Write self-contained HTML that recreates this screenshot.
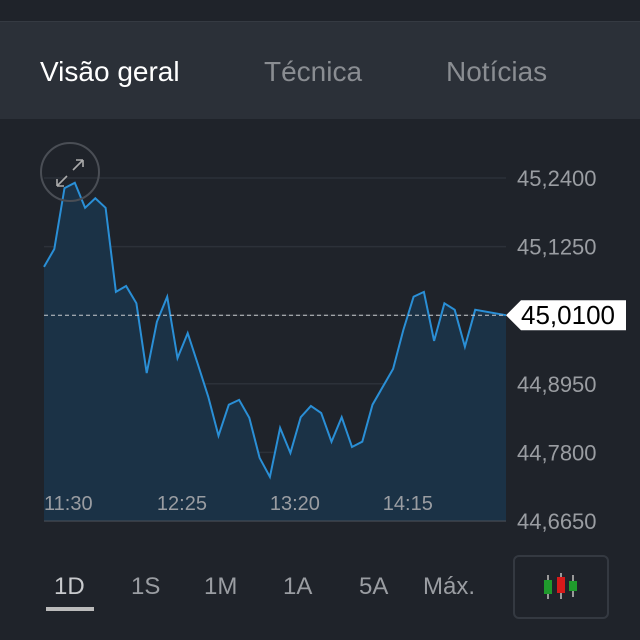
<!DOCTYPE html>
<html><head><meta charset="utf-8"><style>
html,body{margin:0;width:640px;height:640px;overflow:hidden}
body{background:#1f232a;font-family:"Liberation Sans",sans-serif;position:relative}
.abs{position:absolute}
.tab{position:absolute;top:56px;font-size:28px;color:#8a8d92}
.rng{position:absolute;top:573px;font-size:24px;color:#9a9da2}
</style></head><body>
<div class="abs" style="left:0;top:0;width:640px;height:21px;background:#1f232a"></div>
<div class="abs" style="left:0;top:21px;width:640px;height:97px;background:#2b3038;border-top:1px solid #353a42"></div>
<div class="tab" style="left:40px;color:#fff">Visão geral</div>
<div class="tab" style="left:264px">Técnica</div>
<div class="tab" style="left:446px">Notícias</div>
<svg class="abs" style="left:0;top:0" width="640" height="640">
<polygon points="102,118 112,110 122,118" fill="#2b3038"/>
<g id="grid"></g><path id="area" fill="#1b3246"/><path id="line" fill="none" stroke="#2a8fd6" stroke-width="2"/>
<line x1="44" x2="506" y1="521" y2="521" stroke="#4a5058" stroke-width="1"/>
<g id="ylab"></g><g id="xlab"></g>
<circle cx="70" cy="172" r="29" fill="none" stroke="#4a4e55" stroke-width="2"/>
<path d="M57,186 L67,176 M57,186 h7 M57,186 v-7 M83,160 L73,170 M83,160 h-7 M83,160 v7" stroke="#aaa" stroke-width="1.6" fill="none"/>
<g id="cur"></g>
</svg>
<div class="rng" style="left:54px;color:#c8cacd">1D</div>
<div class="abs" style="left:46px;top:607px;width:48px;height:4px;background:#bbb"></div>
<div class="rng" style="left:131px">1S</div>
<div class="rng" style="left:204px">1M</div>
<div class="rng" style="left:283px">1A</div>
<div class="rng" style="left:359px">5A</div>
<div class="rng" style="left:423px">Máx.</div>
<div class="abs" style="left:513px;top:555px;width:92px;height:60px;border:2px solid #343941;border-radius:6px">
<svg width="92" height="60"><g stroke="#999" stroke-width="2"><line x1="33" y1="18" x2="33" y2="42"/><line x1="46" y1="16" x2="46" y2="42"/><line x1="58" y1="18" x2="58" y2="40"/></g>
<rect x="29" y="23" width="8" height="14" fill="#1f9a2c"/><rect x="42" y="20" width="8" height="16" fill="#d61a1a"/><rect x="54" y="24" width="8" height="10" fill="#1f9a2c"/></svg></div>
<script>
const times=[0,1,2,3,4,5,6,7,8,9,10,11,12,13,14,15,16,17,18,19,20,21,22,23,24,25,26,27,28,29,30,31,32,33,34,35,36,37,38,39,40,41,42,45];
const values=[45.091,45.121,45.223,45.232,45.190,45.206,45.190,45.049,45.059,45.030,44.913,44.999,45.041,44.938,44.980,44.927,44.873,44.808,44.860,44.868,44.838,44.771,44.739,44.821,44.779,44.839,44.858,44.846,44.798,44.839,44.789,44.798,44.860,44.890,44.920,44.985,45.041,45.049,44.967,45.030,45.019,44.957,45.019,45.010];
const yTicks=[45.24,45.125,45.01,44.895,44.78,44.665];
const xTickLabels=["11:30","12:25","13:20","14:15"];
const xTickTimes=[0,11,22,33];
const current=45.01;
const X0=44,X1=506,Y0=178,Y1=521,vmax=45.24,vmin=44.665,tmax=45;
const x=t=>X0+t*(X1-X0)/tmax;
const y=v=>Y0+(vmax-v)/(vmax-vmin)*(Y1-Y0);
const NS="http://www.w3.org/2000/svg";
const fmt=v=>v.toFixed(4).replace('.',',');
const grid=document.getElementById('grid'),yl=document.getElementById('ylab'),xl=document.getElementById('xlab');
yTicks.forEach(t=>{
 const l=document.createElementNS(NS,'line');
 
 
 l.setAttribute('x1',X0);l.setAttribute('x2',X1);l.setAttribute('y1',y(t));l.setAttribute('y2',y(t));
 l.setAttribute('stroke','#2c3139');l.setAttribute('stroke-width','1.5');grid.appendChild(l);
 if(Math.abs(t-current)>1e-6){
 const tx=document.createElementNS(NS,'text');
 
 
 tx.setAttribute('x',517);tx.setAttribute('y',y(t)+8);tx.setAttribute('font-size','22');tx.setAttribute('fill','#9a9da2');
 tx.textContent=fmt(t);yl.appendChild(tx);}
});
xTickTimes.forEach((k,j)=>{
 const tx=document.createElementNS(NS,'text');
 
 
 tx.setAttribute('x',x(k));tx.setAttribute('y',510);tx.setAttribute('font-size','20');tx.setAttribute('fill','#9a9da2');
 tx.textContent=xTickLabels[j];xl.appendChild(tx);
});
let d=values.map((v,i)=>(i?'L':'M')+x(times[i]).toFixed(1)+','+y(v).toFixed(1)).join('');
const line=document.getElementById('line');line.setAttribute('d',d);

const area=document.getElementById('area');area.setAttribute('d',d+'L'+x(times[times.length-1])+','+Y1+'L'+X0+','+Y1+'Z');

const cur=document.getElementById('cur'),cy=y(current);
const dl=document.createElementNS(NS,'line');


dl.setAttribute('x1',X0);dl.setAttribute('x2',X1);dl.setAttribute('y1',cy);dl.setAttribute('y2',cy);
dl.setAttribute('stroke','#c8cacd');dl.setAttribute('stroke-dasharray','4,3');dl.setAttribute('stroke-width','1');cur.appendChild(dl);
const tag=document.createElementNS(NS,'polygon');


tag.setAttribute('points',`506,${cy} 521,${cy-15} 626,${cy-15} 626,${cy+15} 521,${cy+15}`);tag.setAttribute('fill','#fff');cur.appendChild(tag);
const ct=document.createElementNS(NS,'text');


ct.setAttribute('x',521);ct.setAttribute('y',cy+9);ct.setAttribute('font-size','26');ct.setAttribute('fill','#000');
ct.textContent=fmt(current);cur.appendChild(ct);
</script>
</body></html>
